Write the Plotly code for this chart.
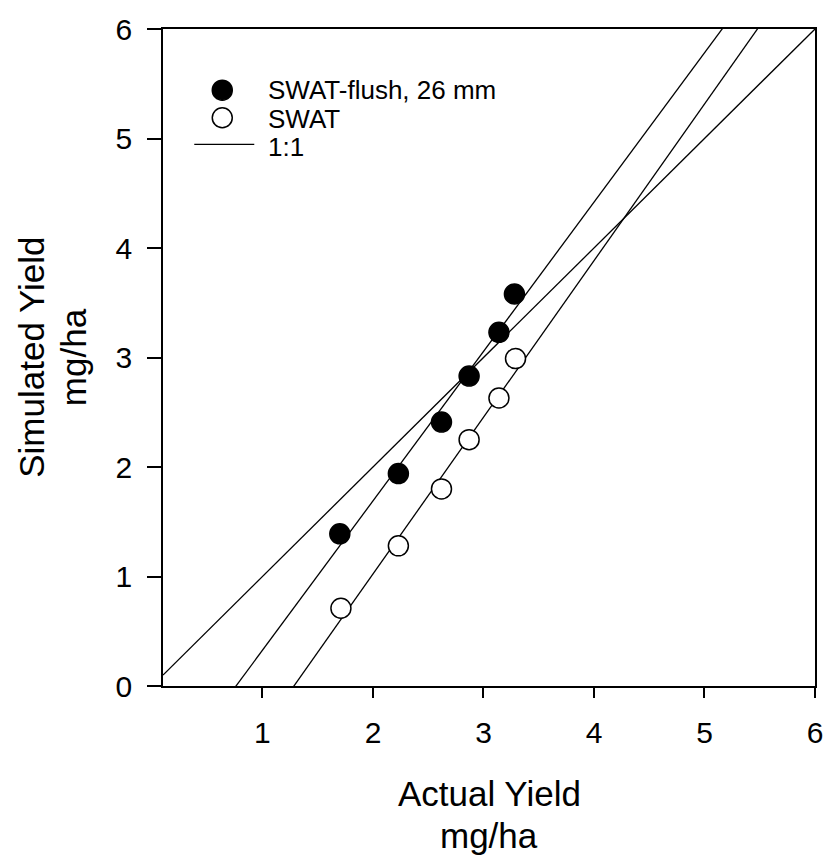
import numpy as np
import plotly.graph_objects as go

# Actual vs simulated yield (mg/ha)
flush_actual = [1.70, 2.23, 2.62, 2.87, 3.14, 3.28]
flush_sim = [1.39, 1.94, 2.41, 2.83, 3.23, 3.58]
swat_actual = [1.71, 2.23, 2.62, 2.87, 3.14, 3.29]
swat_sim = [0.71, 1.28, 1.80, 2.25, 2.63, 2.99]
one_to_one = [0.1, 6.0]

x_ticks = [1, 2, 3, 4, 5, 6]
y_ticks = [0, 1, 2, 3, 4, 5, 6]
legend_labels = ["SWAT-flush, 26 mm", "SWAT", "1:1"]

FONT = "Liberation Sans, Arial, sans-serif"
X_RANGE = [0.1, 6.0]
Y_RANGE = [0.0, 6.0]

fig = go.Figure()

# least-squares lines for each series, drawn across the full axis span
fit_x = np.array(X_RANGE)
for xs, ys in [(flush_actual, flush_sim), (swat_actual, swat_sim)]:
    slope, intercept = np.polyfit(xs, ys, 1)
    fig.add_trace(go.Scatter(x=fit_x, y=slope * fit_x + intercept, mode="lines",
                             line=dict(color="black", width=1.3),
                             showlegend=False, hoverinfo="skip"))

fig.add_trace(go.Scatter(x=one_to_one, y=one_to_one, mode="lines",
                         line=dict(color="black", width=1.3),
                         name=legend_labels[2], showlegend=False))

fig.add_trace(go.Scatter(x=flush_actual, y=flush_sim, mode="markers",
                         marker=dict(size=20, color="black",
                                     line=dict(color="black", width=1.5)),
                         name=legend_labels[0], showlegend=False))
fig.add_trace(go.Scatter(x=swat_actual, y=swat_sim, mode="markers",
                         marker=dict(size=20, color="white",
                                     line=dict(color="black", width=1.5)),
                         name=legend_labels[1], showlegend=False))

axis_common = dict(showgrid=False, zeroline=False, showline=True, linecolor="black",
                   linewidth=1.6, mirror=True, ticks="outside", tickcolor="black",
                   tickwidth=1.6, tickfont=dict(family=FONT, size=30, color="black"))
fig.update_xaxes(range=X_RANGE, tickvals=x_ticks, ticklen=10, ticklabelstandoff=9,
                 **axis_common)
fig.update_yaxes(range=Y_RANGE, tickvals=y_ticks, ticklen=14, ticklabelstandoff=9,
                 **axis_common)

# hand-built legend in the upper-left corner
key_x = 0.0909
marker_rows = [0.9069, 0.8649]
line_row = 0.8243
text_rows = [0.9069, 0.8634, 0.8198]
shapes = [
    dict(type="circle", xref="paper", yref="paper", xsizemode="pixel", ysizemode="pixel",
         xanchor=key_x, yanchor=marker_rows[0], x0=-10, x1=10, y0=-10, y1=10,
         fillcolor="black", line=dict(color="black", width=1.5)),
    dict(type="circle", xref="paper", yref="paper", xsizemode="pixel", ysizemode="pixel",
         xanchor=key_x, yanchor=marker_rows[1], x0=-10, x1=10, y0=-10, y1=10,
         fillcolor="white", line=dict(color="black", width=1.5)),
    dict(type="line", xref="paper", yref="paper", xsizemode="pixel",
         xanchor=key_x, x0=-28, x1=32, y0=line_row, y1=line_row,
         line=dict(color="black", width=1.3)),
]
annotations = [
    dict(text=label, xref="paper", yref="paper", x=0.158, y=yy, xanchor="left",
         yanchor="middle", showarrow=False,
         font=dict(family=FONT, size=26, color="black"))
    for label, yy in zip(legend_labels, text_rows)
]

# two-line axis titles
title_font = dict(family=FONT, size=35, color="black")
annotations += [
    dict(text="Actual Yield", xref="paper", yref="paper", x=0.5, y=-0.1637,
         xanchor="center", yanchor="middle", showarrow=False, font=title_font),
    dict(text="mg/ha", xref="paper", yref="paper", x=0.5, y=-0.2282,
         xanchor="center", yanchor="middle", showarrow=False, font=title_font),
    dict(text="Simulated Yield", xref="paper", yref="paper", x=-0.202, y=0.5,
         xanchor="center", yanchor="middle", textangle=-90, showarrow=False,
         font=title_font),
    dict(text="mg/ha", xref="paper", yref="paper", x=-0.137, y=0.5,
         xanchor="center", yanchor="middle", textangle=-90, showarrow=False,
         font=title_font),
]

fig.update_layout(width=835, height=859, margin=dict(l=163, r=12, t=20, b=173),
                  plot_bgcolor="white", paper_bgcolor="white",
                  shapes=shapes, annotations=annotations, showlegend=False)

fig.write_html("out.html")
